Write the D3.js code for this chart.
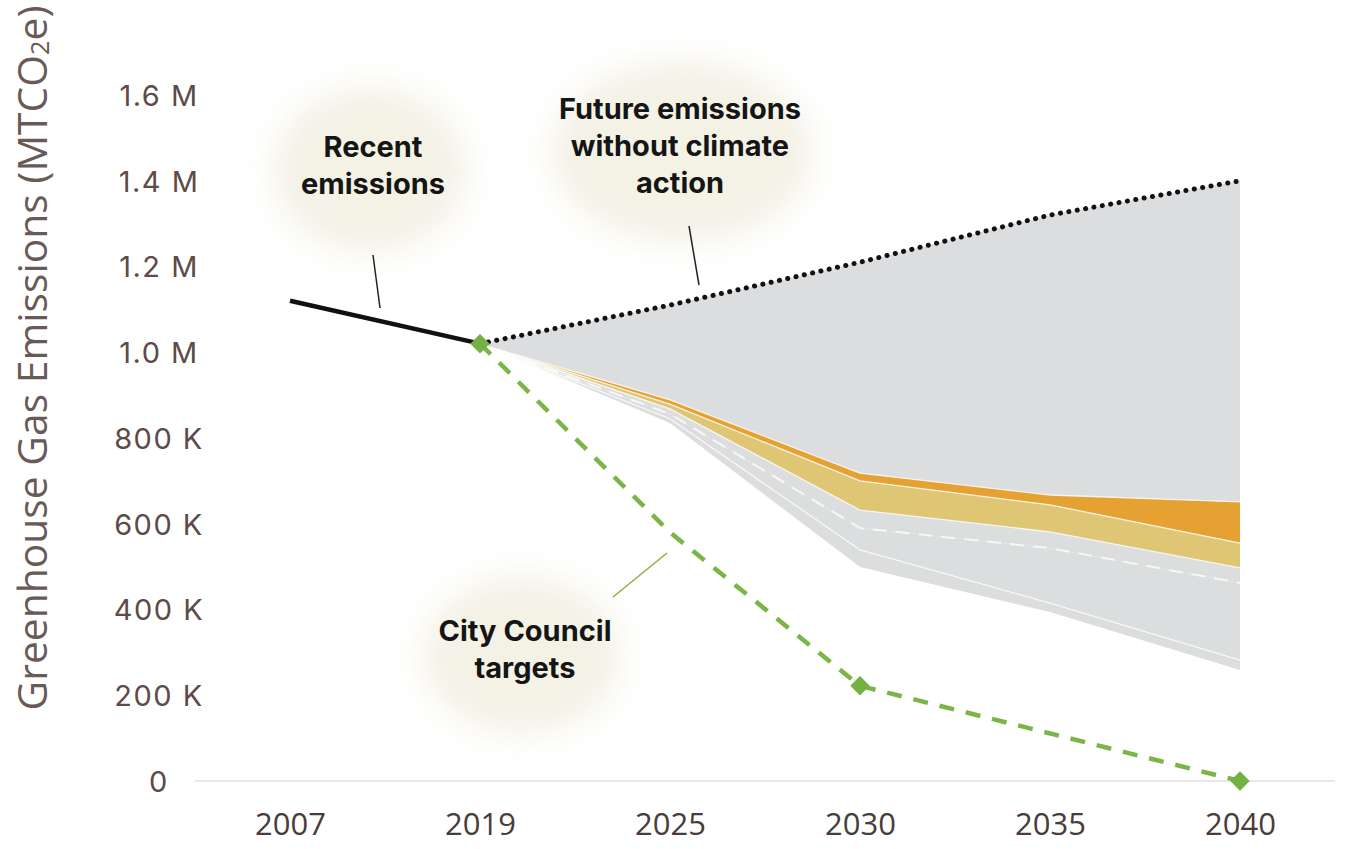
<!DOCTYPE html>
<html><head><meta charset="utf-8">
<script src="https://cdn.jsdelivr.net/npm/d3@7/dist/d3.min.js"></script>
<style>
html,body{margin:0;padding:0;background:#fff;}
svg{display:block;}
</style></head>
<body>
<svg id="chart" width="1346" height="849"></svg>
<script>
// ---------- data ----------
const years = ["2007","2019","2025","2030","2035","2040"];
const yTickValues = [0,200000,400000,600000,800000,1000000,1200000,1400000,1600000];
const yTickLabels = ["0","200 K","400 K","600 K","800 K","1.0 M","1.2 M","1.4 M","1.6 M"];

const recentYears = ["2007","2019"];
const recentValues = [1120000, 1020000];

const bauYears = ["2019","2025","2030","2035","2040"];
const bauValues = [1020000, 1110000, 1210000, 1320000, 1400000];

const targetYears = ["2019","2025","2030","2040"];
const targetValues = [1020000, 580000, 222000, 0];
const targetMarkerYears = ["2019","2030","2040"];
const targetMarkerValues = [1020000, 222000, 0];

const stackYears = ["2019","2025","2030","2035","2040"];
const floorValues  = [1020000, 835000, 499000, 394000, 259000];
const layerGrayA   = [0, 10000, 40000, 21000, 23000];
const layerGrayB   = [0, 11000, 51000, 128000, 180000];
const layerGrayC   = [0, 12000, 42000, 38000, 35000];
const layerYellow  = [0, 11000, 68000, 63000, 58000];
const layerOrange  = [0, 10000, 18000, 23000, 96000];

// ---------- setup ----------
const svg = d3.select("#chart");
const x = d3.scalePoint().domain(years).range([290, 1240]);
const y = d3.scaleLinear().domain([0, 1600000]).range([781, 95]);

const defs = svg.append("defs");
const blur = defs.append("filter").attr("id","soft").attr("x","-50%").attr("y","-50%").attr("width","200%").attr("height","200%");
blur.append("feGaussianBlur").attr("stdDeviation", 16);

const grad = defs.append("linearGradient").attr("id","fadeGrad")
  .attr("gradientUnits","userSpaceOnUse").attr("x1", x("2019")).attr("x2", x("2025")).attr("y1",0).attr("y2",0);
grad.append("stop").attr("offset","0").attr("stop-color","#fff").attr("stop-opacity",0.1);
grad.append("stop").attr("offset","0.6").attr("stop-color","#fff").attr("stop-opacity",1);
grad.append("stop").attr("offset","1").attr("stop-color","#fff").attr("stop-opacity",1);
const mask = defs.append("mask").attr("id","fadeMask");
mask.append("rect").attr("x",0).attr("y",0).attr("width",1346).attr("height",849).attr("fill","url(#fadeGrad)");

// ---------- annotation bubbles ----------
const bubbles = [
  {cx: 370, cy: 170, rx: 98, ry: 84},
  {cx: 682, cy: 152, rx: 132, ry: 92},
  {cx: 522, cy: 655, rx: 100, ry: 80}
];
svg.append("g").selectAll("ellipse").data(bubbles).join("ellipse")
  .attr("cx", d => d.cx).attr("cy", d => d.cy).attr("rx", d => d.rx).attr("ry", d => d.ry)
  .attr("fill", "#f3f0e3").attr("opacity", 0.9).attr("filter","url(#soft)");

// ---------- baseline ----------
svg.append("line").attr("x1",195).attr("x2",1335).attr("y1",y(0)).attr("y2",y(0))
  .attr("stroke","#e8e8e8").attr("stroke-width",2);

// ---------- stacked areas ----------
const layers = [layerGrayA, layerGrayB, layerGrayC, layerYellow, layerOrange];
const layerFill = ["#dcdddf", "#dcdddf", "#dcdddf", "#dfc675", "#e6a133"];
let cum = floorValues.slice();
const bounds = [cum.slice()];
layers.forEach(l => { cum = cum.map((v,i) => v + l[i]); bounds.push(cum.slice()); });

const areaGen = d3.area().x(d => x(d.year)).y0(d => y(d.lo)).y1(d => y(d.hi));
const lineGen = d3.line().x(d => x(d.year)).y(d => y(d.v));

const topBound = bounds[bounds.length-1];
svg.append("path")
  .datum(stackYears.map((yr,i) => ({year: yr, lo: topBound[i], hi: bauValues[i]})))
  .attr("d", areaGen).attr("fill", "#dcdddf");

const gStack = svg.append("g").attr("mask","url(#fadeMask)");
layers.forEach((l, k) => {
  gStack.append("path")
    .datum(stackYears.map((yr,i) => ({year: yr, lo: bounds[k][i], hi: bounds[k+1][i]})))
    .attr("d", areaGen).attr("fill", layerFill[k]);
});
bounds.slice(1).forEach((b, k) => {
  gStack.append("path")
    .datum(stackYears.map((yr,i) => ({year: yr, v: b[i]})))
    .attr("d", lineGen).attr("fill","none").attr("stroke","#fbfbf8")
    .attr("stroke-width", k === 1 ? 2 : 1.3)
    .attr("stroke-dasharray", k === 1 ? "14 9" : null)
    .attr("opacity", 0.85);
});

// ---------- lines ----------
svg.append("path")
  .datum(recentYears.map((yr,i) => ({year: yr, v: recentValues[i]})))
  .attr("d", lineGen).attr("fill","none").attr("stroke","#111").attr("stroke-width",4.5);

svg.append("path")
  .datum(bauYears.map((yr,i) => ({year: yr, v: bauValues[i]})))
  .attr("d", lineGen).attr("fill","none").attr("stroke","#111").attr("stroke-width",5)
  .attr("stroke-linecap","round").attr("stroke-dasharray","0.1 8.4");

svg.append("path")
  .datum(targetYears.map((yr,i) => ({year: yr, v: targetValues[i]})))
  .attr("d", lineGen).attr("fill","none").attr("stroke","#7bb547").attr("stroke-width",4.5)
  .attr("stroke-dasharray","15 12");

svg.append("g").selectAll("path")
  .data(targetMarkerYears.map((yr,i) => ({year: yr, v: targetMarkerValues[i]})))
  .join("path")
  .attr("d", d3.symbol(d3.symbolDiamond2, 240))
  .attr("transform", d => `translate(${x(d.year)},${y(d.v)})`)
  .attr("fill","#74b042");

// ---------- leader lines ----------
const leaders = [
  {x1: 373, y1: 255, x2: 380, y2: 308, c: "#222", w: 1.5},
  {x1: 689, y1: 226, x2: 699, y2: 285, c: "#222", w: 1.5},
  {x1: 613, y1: 597, x2: 667, y2: 553, c: "#9ea83e", w: 1.5}
];
svg.append("g").selectAll("line").data(leaders).join("line")
  .attr("x1",d=>d.x1).attr("y1",d=>d.y1).attr("x2",d=>d.x2).attr("y2",d=>d.y2)
  .attr("stroke",d=>d.c).attr("stroke-width",d=>d.w);

// ---------- annotation text ----------
const notes = [
  {x: 373, y: 157, lines: ["Recent", "emissions"]},
  {x: 680, y: 119, lines: ["Future emissions", "without climate", "action"]},
  {x: 525, y: 641, lines: ["City Council", "targets"]}
];
notes.forEach(n => {
  const t = svg.append("text").attr("x", n.x).attr("y", n.y)
    .attr("text-anchor","middle").attr("font-family","Inter, 'Open Sans', sans-serif")
    .attr("font-weight",700).attr("font-size",29).attr("fill","#151515");
  n.lines.forEach((s,i) => t.append("tspan").attr("x", n.x).attr("dy", i === 0 ? 0 : 37).text(s));
});

// ---------- y axis ----------
const yAxis = svg.append("g").attr("transform","translate(159,0)")
  .call(d3.axisLeft(y).tickValues(yTickValues).tickSize(0).tickFormat((d,i) => yTickLabels[i]));
yAxis.select(".domain").remove();
yAxis.selectAll("text").attr("x",0).attr("text-anchor","middle").attr("dy","0.36em")
  .attr("font-family","Inter, sans-serif").attr("font-size",29).attr("letter-spacing",1.5)
  .attr("fill","#5c4b47");

// ---------- x axis ----------
const xAxis = svg.append("g").attr("transform",`translate(0,${y(0)})`)
  .call(d3.axisBottom(x).tickSize(0));
xAxis.select(".domain").remove();
xAxis.selectAll("text").attr("y", 54).attr("dy", 0)
  .attr("font-family","'Open Sans', sans-serif").attr("font-size",31)
  .attr("fill","#4a3c38");

// ---------- y title ----------
const title = svg.append("text")
  .attr("transform","translate(47,358) rotate(-90)")
  .attr("text-anchor","middle")
  .attr("font-family","'Open Sans', sans-serif").attr("font-size",36).attr("fill","#6a5a56");
title.append("tspan").text("Greenhouse Gas Emissions (MTCO");
title.append("tspan").attr("font-size",22).attr("dy",2).text("2");
title.append("tspan").attr("dy",-2).text("e)");
const len = title.node().getComputedTextLength();
if (len > 0) {
  const fs = 36 * 705 / len;
  title.attr("font-size", fs);
  title.select("tspan:nth-child(2)").attr("font-size", fs * 0.62);
}
</script>
</body></html>
